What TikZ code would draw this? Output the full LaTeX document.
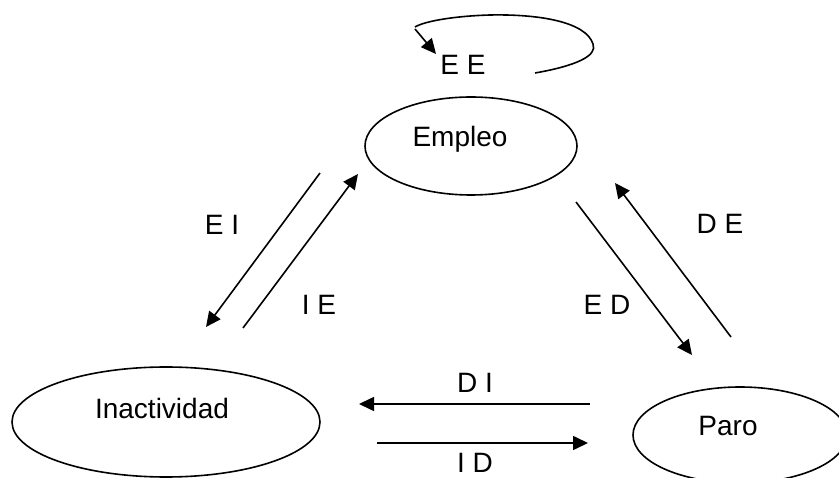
\documentclass[tikz,border=0pt]{standalone}
\usepackage{fontspec}
\setmainfont{Liberation Sans}
\usetikzlibrary{arrows.meta,shapes.geometric}
\begin{document}
\begin{tikzpicture}[x=1pt,y=-1pt,
  state/.style={draw,line width=1.6pt,ellipse,inner sep=0pt},
  lbl/.style={anchor=base,inner sep=0pt,font=\fontsize{28}{32}\selectfont},
  flow/.style={line width=1.6pt,-{Triangle[length=15pt,width=14pt]}}]
\useasboundingbox (0,0) rectangle (839,478);
% states
\node[state,minimum width=212pt,minimum height=98pt] (emp) at (471,146) {};
\node[state,minimum width=308pt,minimum height=110pt] (ina) at (166,422) {};
\node[state,minimum width=214pt,minimum height=96pt] (par) at (740,435) {};
\node[lbl] (templ) at (460,147) {Empleo};
\node[lbl] (tina) at (162,419) {Inactividad};
\node[lbl] (tpar) at (728,436) {Paro};
% self loop
\coordinate (l1) at (535,73);
\coordinate (l2) at (593,44);
\coordinate (l3) at (490,15);
\coordinate (l4) at (415,27);
\coordinate (l5) at (415,29);
\coordinate (l6) at (436,54);
\draw[line width=1.6pt] (l1) .. controls (575,66) and (598,56) .. (l2)
  .. controls (586,22) and (540,14) .. (l3)
  .. controls (455,16) and (425,21) .. (l4);
\draw[flow] (l5) -- (l6);
\node[lbl] (tee) at (463,75) {E E};
% E <-> I
\coordinate (ei1) at (320,173);
\coordinate (ei2) at (206,327);
\coordinate (ie1) at (243,328);
\coordinate (ie2) at (358,174);
\draw[flow] (ei1) -- (ei2);
\draw[flow] (ie1) -- (ie2);
\node[lbl] (tei) at (222,235) {E I};
\node[lbl] (tie) at (319,315) {I E};
% E <-> D
\coordinate (ed1) at (576,202);
\coordinate (ed2) at (692,355);
\coordinate (de1) at (731,337);
\coordinate (de2) at (615,183);
\draw[flow] (ed1) -- (ed2);
\draw[flow] (de1) -- (de2);
\node[lbl] (tde) at (720,234) {D E};
\node[lbl] (ted) at (607,315) {E D};
% D <-> I
\coordinate (di1) at (590,404);
\coordinate (di2) at (359,404);
\coordinate (id1) at (377,443);
\coordinate (id2) at (588,443);
\draw[flow] (di1) -- (di2);
\draw[flow] (id1) -- (id2);
\node[lbl] (tdi) at (475,393) {D I};
\node[lbl] (tid) at (475,473) {I D};
\end{tikzpicture}
\end{document}
